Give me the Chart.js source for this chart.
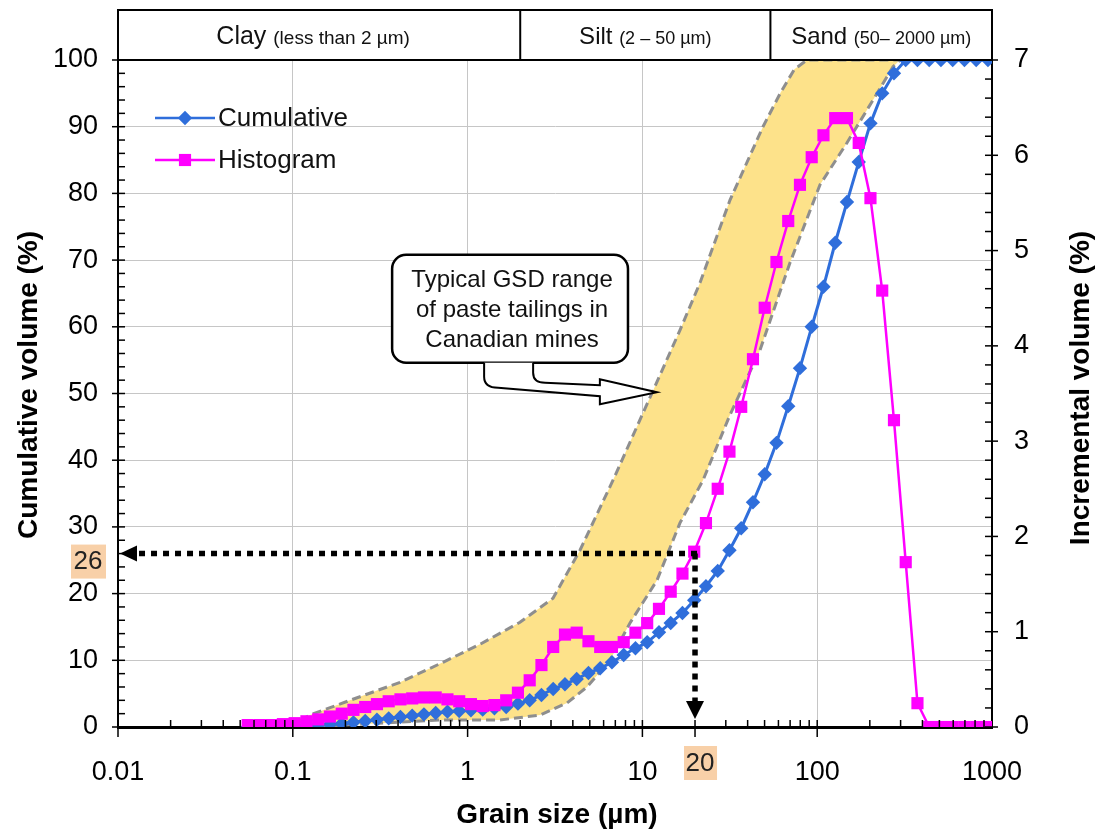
<!DOCTYPE html>
<html><head><meta charset="utf-8">
<script src="https://cdn.jsdelivr.net/npm/chart.js@4.4.1/dist/chart.umd.min.js"></script>
<style>html,body{margin:0;padding:0;background:#fff;overflow:hidden}</style>
</head><body>
<canvas id="c" width="1099" height="832"></canvas>
<script>
// ---------- data ----------
const grainSizes = [0.0552,0.0645,0.0752,0.0878,0.1025,0.1197,0.1397,0.1631,0.1905,0.2223,
  0.2596,0.3030,0.3537,0.4129,0.4820,0.5627,0.6569,0.7669,0.8953,1.045,
  1.220,1.424,1.663,1.941,2.266,2.646,3.088,3.606,4.209,4.914,
  5.737,6.697,7.817,9.127,10.65,12.44,14.52,16.95,19.79,23.10,
  26.97,31.48,36.75,42.91,50.09,58.48,68.27,79.69,93.03,108.6,
  126.8,148.0,172.8,201.7,235.5,274.9,320.9,374.6,437.4,510.5,
  596.0,695.8,812.2,948.2];
const cumulativeVolume = [0,0,0,0,0.1,0.2,0.3,0.4,0.5,0.7,
  0.9,1.1,1.3,1.5,1.7,1.9,2.1,2.3,2.4,2.5,
  2.6,2.8,3.0,3.5,4.0,4.8,5.7,6.4,7.2,8.1,
  8.8,9.7,10.8,11.8,12.7,14.2,15.6,17.1,19.0,21.1,
  23.4,26.5,29.8,33.7,37.9,42.6,48.1,53.8,60.0,66.0,
  72.6,78.7,84.7,90.5,95.0,98.0,100,100,100,100,
  100,100,100,100];
const histogramVolume = [0.02,0.02,0.02,0.03,0.04,0.06,0.08,0.11,0.14,0.18,
  0.21,0.24,0.27,0.29,0.30,0.31,0.31,0.29,0.27,0.24,
  0.22,0.23,0.28,0.36,0.49,0.65,0.84,0.97,0.99,0.90,
  0.84,0.84,0.89,0.99,1.09,1.24,1.42,1.61,1.84,2.14,
  2.50,2.89,3.36,3.86,4.40,4.88,5.31,5.69,5.98,6.21,
  6.39,6.39,6.13,5.55,4.58,3.22,1.73,0.25,0,0,
  0,0,0,0];
// typical GSD range (yellow band): upper (fine) and lower (coarse) limits
const bandUpperSize = [0.0939,0.1254,0.2124,0.4105,0.7232,1.177,1.994,3.080,4.395,6.790,11.81,16.41,21.36,31.70,48.96,62.0,74.0,87.42,297.6];
const bandUpperPct  = [0,1.8,4.0,6.7,9.7,12.4,15.7,19.3,26.5,37.0,51.1,59.5,66.6,79.0,90.0,95.2,98.6,100,100];
const bandLowerSize = [0.0939,0.1632,0.6953,1.532,2.596,3.704,4.822,6.525,8.494,12.12,16.41,22.22,31.70,47.07,69.88,103.8,148.1,208.6,271.5,297.6];
const bandLowerPct  = [0,0.15,1.05,1.05,1.8,3.6,6.0,10.0,15.6,22.0,30.6,37.0,46.8,56.5,69.6,81.3,87.6,94.0,99.0,100];

const xTickValues = [0.01,0.1,1,10,100,1000];
const xTickLabels = ['0.01','0.1','1','10','100','1000'];
const classNames = ['Clay','Silt','Sand'];
const classRanges = ['(less than 2 µm)','(2 – 50 µm)','(50– 2000 µm)'];
const classBounds = [2, 54];
const markerSize = 20;     // µm
const markerPercent = 26;  // %
const calloutLines = ['Typical GSD range','of paste tailings in','Canadian mines'];
const calloutBox = {x0:0.37, x1:8.27, yTop:70.8, yBottom:54.6};
const calloutTip = {x:12.1, y:50.2};

// ---------- styles ----------
const FONT = '"Liberation Sans", Arial, Helvetica, sans-serif';
const BLUE = '#2f6edb';
const MAGENTA = '#ff00ff';
const GRID = '#c6c6c6';

const bandPolygon = bandUpperSize.map((s,i)=>({x:s,y:bandUpperPct[i]}))
  .concat(bandLowerSize.map((s,i)=>({x:s,y:bandLowerPct[i]})).reverse());

const decor = {
  id:'decor',
  beforeDraw(chart){
    const c = chart.ctx; c.save(); c.fillStyle='#fff'; c.fillRect(0,0,chart.width,chart.height); c.restore();
  },
  afterDatasetsDraw(chart){
    const c = chart.ctx, xs = chart.scales.x, ys = chart.scales.y, ca = chart.chartArea;
    c.save();
    // dotted marker arrows
    const px = xs.getPixelForValue(markerSize), py = ys.getPixelForValue(markerPercent);
    c.strokeStyle='#000'; c.lineWidth=5.5; c.setLineDash([6,6]); c.lineCap='butt';
    c.beginPath(); c.moveTo(px+2, py); c.lineTo(ca.left+18, py); c.stroke();
    c.beginPath(); c.moveTo(px, py); c.lineTo(px, ca.bottom-25); c.stroke();
    c.setLineDash([]); c.fillStyle='#000';
    c.beginPath(); c.moveTo(ca.left+2, py); c.lineTo(ca.left+19, py-8); c.lineTo(ca.left+19, py+8); c.closePath(); c.fill();
    c.beginPath(); c.moveTo(px, ca.bottom-8); c.lineTo(px-9, ca.bottom-26); c.lineTo(px+9, ca.bottom-26); c.closePath(); c.fill();

    // callout box
    const bx0 = xs.getPixelForValue(calloutBox.x0), bx1 = xs.getPixelForValue(calloutBox.x1);
    const by0 = ys.getPixelForValue(calloutBox.yTop), by1 = ys.getPixelForValue(calloutBox.yBottom);
    const tx = xs.getPixelForValue(calloutTip.x), ty = ys.getPixelForValue(calloutTip.y);
    c.lineWidth=2.5; c.strokeStyle='#000'; c.fillStyle='#fff';
    c.beginPath(); c.roundRect(bx0, by0, bx1-bx0, by1-by0, 14); c.fill(); c.stroke();
    c.fillStyle='#111'; c.font='24px '+FONT; c.textAlign='center'; c.textBaseline='middle';
    const cx = (bx0+bx1)/2;
    calloutLines.forEach((t,i)=>c.fillText(t, cx+2, by0+26+30*i));
    // block arrow
    const s1 = bx0+92, s2 = bx0+141, hb = tx-57;
    c.beginPath();
    c.moveTo(s1, by1); c.lineTo(s1, by1+14);
    c.quadraticCurveTo(s1, by1+25, s1+14, by1+25);
    c.lineTo(hb, ty+4); c.lineTo(hb, ty+12); c.lineTo(tx, ty);
    c.lineTo(hb, ty-13); c.lineTo(hb, ty-7);
    c.lineTo(s2+12, by1+20); c.quadraticCurveTo(s2, by1+20, s2, by1+10);
    c.lineTo(s2, by1);
    c.fillStyle='#fff'; c.fill(); c.lineWidth=2; c.stroke();

    // legend
    const ds = chart.data.datasets;
    const items = [ds[1], ds[0]];
    const lx = ca.left+37, ly = ca.top+58;
    items.forEach((d,i)=>{
      const y = ly + 42*i;
      c.strokeStyle=d.borderColor; c.fillStyle=d.backgroundColor; c.lineWidth=2.5;
      c.beginPath(); c.moveTo(lx, y); c.lineTo(lx+60, y); c.stroke();
      const mx = lx+30;
      c.beginPath();
      if (d.pointStyle==='rectRot'){ const r=d.pointRadius; c.moveTo(mx-r,y); c.lineTo(mx,y-r); c.lineTo(mx+r,y); c.lineTo(mx,y+r); c.closePath(); }
      else { const h=d.pointRadius*Math.SQRT1_2; c.rect(mx-h,y-h,2*h,2*h); }
      c.fill();
      c.fillStyle='#111'; c.font='26px '+FONT; c.textAlign='left'; c.textBaseline='middle';
      c.fillText(d.label, lx+63, y+1);
    });
    c.restore();
  },
  afterDraw(chart){
    const c = chart.ctx, xs = chart.scales.x, ys = chart.scales.y, y2 = chart.scales.y2, ca = chart.chartArea;
    c.save();
    // header table
    const top = 10;
    const edges = [ca.left].concat(classBounds.map(v=>xs.getPixelForValue(v)), [ca.right]);
    c.strokeStyle='#000'; c.lineWidth=2;
    c.strokeRect(ca.left, top, ca.right-ca.left, ca.top-top);
    for (let i=1;i<edges.length-1;i++){ c.beginPath(); c.moveTo(edges[i], top); c.lineTo(edges[i], ca.top); c.stroke(); }
    c.fillStyle='#111'; c.textBaseline='alphabetic';
    const f1 = [25,24,24], f2 = [19,18,18];
    for (let i=0;i<classNames.length;i++){
      c.font=f1[i]+'px '+FONT; const w1 = c.measureText(classNames[i]+' ').width;
      c.font=f2[i]+'px '+FONT; const w2 = c.measureText(classRanges[i]).width;
      const mid = (edges[i]+edges[i+1])/2 - (i===0?6:0), start = mid-(w1+w2)/2;
      c.textAlign='left';
      c.font=f1[i]+'px '+FONT; c.fillText(classNames[i], start, top+34);
      c.font=f2[i]+'px '+FONT; c.fillText(classRanges[i], start+w1, top+34);
    }
    // axis tick marks
    c.strokeStyle='#000'; c.lineWidth=1.5;
    for (let v=0; v<=100; v+=2){
      const y = ys.getPixelForValue(v); const major = v%10===0;
      c.beginPath(); c.moveTo(major?ca.left-6:ca.left, y); c.lineTo(ca.left+7, y); c.stroke();
    }
    for (let k=0; k<=35; k++){
      const v = k/5; const y = y2.getPixelForValue(v); const major = k%5===0;
      c.beginPath(); c.moveTo(ca.right-7, y); c.lineTo(major?ca.right+6:ca.right, y); c.stroke();
    }
    for (let e=-2; e<3; e++){
      for (let m=1; m<10; m++){
        const v = m*Math.pow(10,e); const x = xs.getPixelForValue(v);
        const major = m===1;
        c.beginPath(); c.moveTo(x, ca.bottom-7); c.lineTo(x, major?ca.bottom+10:ca.bottom); c.stroke();
      }
    }
    const x20 = xs.getPixelForValue(markerSize);
    c.beginPath(); c.moveTo(x20, ca.bottom); c.lineTo(x20, ca.bottom+10); c.stroke();
    // highlighted marker values
    const py = ys.getPixelForValue(markerPercent);
    c.fillStyle='#f8d0a8';
    c.fillRect(71, py-9, 35, 34);
    c.fillRect(x20-11, ca.bottom+19, 33, 34);
    c.fillStyle='#222'; c.font='26px '+FONT; c.textAlign='center'; c.textBaseline='middle';
    c.fillText(String(markerPercent), 88, py+8);
    c.fillText(String(markerSize), x20+5, ca.bottom+37);
    // axis titles
    c.fillStyle='#000'; c.font='bold 28px '+FONT;
    c.save(); c.translate(29, 385); c.rotate(-Math.PI/2); c.fillText('Cumulative volume (%)', 0, 0); c.restore();
    c.save(); c.translate(1081, 388); c.rotate(-Math.PI/2); c.fillText('Incremental volume (%)', 0, 0); c.restore();
    c.fillText('Grain size (µm)', 557, 815);
    c.restore();
  }
};

const tickFont = {family:FONT, size:27};
new Chart(document.getElementById('c'), {
  type:'line',
  data:{datasets:[
    {label:'Histogram', data:grainSizes.map((s,i)=>({x:s,y:histogramVolume[i]})), yAxisID:'y2',
     borderColor:MAGENTA, backgroundColor:MAGENTA, borderWidth:2.5, pointStyle:'rect', pointRadius:8.6,
     pointBorderWidth:0, pointBackgroundColor:MAGENTA, tension:0, order:1},
    {label:'Cumulative', data:grainSizes.map((s,i)=>({x:s,y:cumulativeVolume[i]})), yAxisID:'y',
     borderColor:BLUE, backgroundColor:BLUE, borderWidth:3, pointStyle:'rectRot', pointRadius:7.2,
     pointBorderWidth:0, pointBackgroundColor:BLUE, tension:0, order:2},
    {label:'GSD range', data:bandPolygon, yAxisID:'y', fill:'shape', backgroundColor:'#fde28a',
     borderColor:'#8e8e8e', borderWidth:3, borderDash:[9,5], pointRadius:0, tension:0, order:3}
  ]},
  options:{
    responsive:false, animation:false, events:[],
    layout:{padding:{top:60,left:0,right:0,bottom:0}},
    plugins:{legend:{display:false}, tooltip:{enabled:false}},
    scales:{
      x:{type:'logarithmic', position:'bottom', min:0.01, max:1000,
         afterBuildTicks:s=>{ s.ticks = xTickValues.map(v=>({value:v})); },
         afterFit:s=>{ s.height = 105; },
         grid:{color:GRID, lineWidth:1, drawTicks:false},
         border:{color:'#000', width:3},
         ticks:{padding:29, color:'#000', font:tickFont, maxRotation:0, autoSkip:false,
                callback:(v,i)=>xTickLabels[i]}},
      y:{position:'left', min:0, max:100,
         afterFit:s=>{ s.width = 118; },
         grid:{color:GRID, lineWidth:1, drawTicks:false},
         border:{color:'#000', width:2},
         ticks:{stepSize:10, padding:20, color:'#000', font:tickFont}},
      y2:{position:'right', min:0, max:7,
         afterFit:s=>{ s.width = 107; },
         grid:{drawOnChartArea:false, drawTicks:false},
         border:{color:'#000', width:2},
         ticks:{stepSize:1, padding:22, color:'#000', font:tickFont}}
    }
  },
  plugins:[decor]
});
</script>
</body></html>
